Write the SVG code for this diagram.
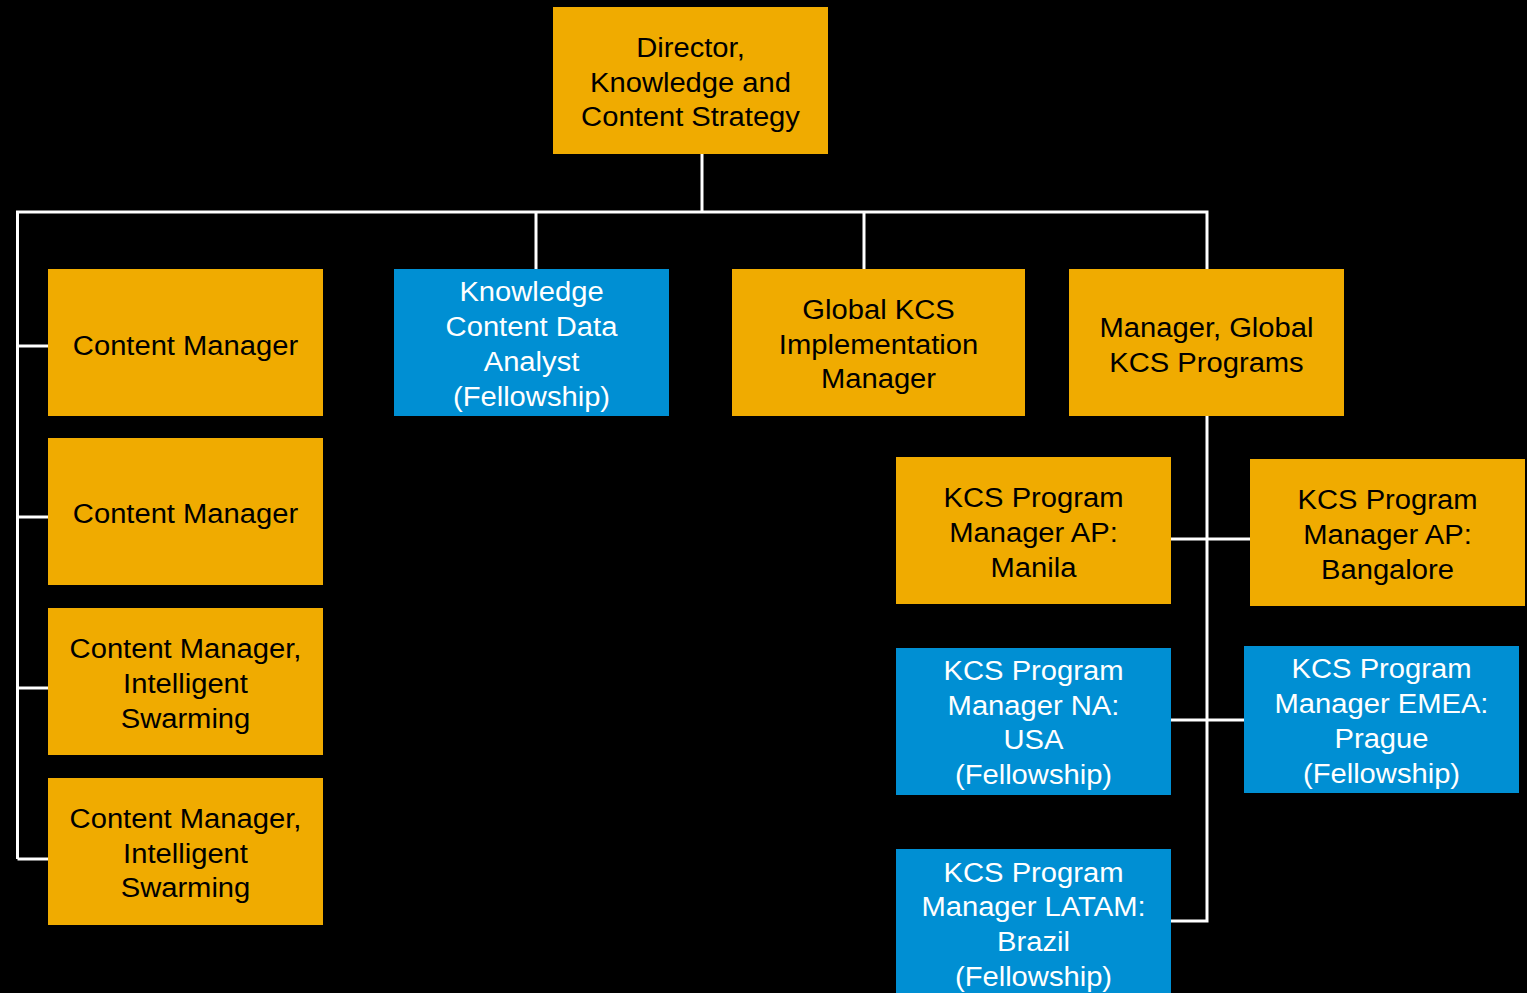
<svg xmlns="http://www.w3.org/2000/svg" width="1527" height="993" viewBox="0 0 1527 993">
  <style>
    .bg { fill: #000000; }
    .gold { fill: #F0AB00; }
    .blue { fill: #008FD3; }
    .lbl { font-family: "Liberation Sans", Arial, sans-serif; font-size: 27px; text-anchor: middle; }
    .dark { fill: #000000; }
    .light { fill: #FFFFFF; }
    .wire { fill: none; stroke: #FFFFFF; stroke-width: 3; stroke-linejoin: miter; }
  </style>
  <rect class="bg" x="0" y="0" width="1527" height="993"/>

  <!-- reporting lines -->
  <g id="connectors">
    <path class="wire" d="M702 154 V212"/>
    <path class="wire" d="M17.5 859 V212 H1207 V269"/>
    <path class="wire" d="M536 212 V269"/>
    <path class="wire" d="M864 212 V269"/>
    <path class="wire" d="M17.5 346 H48"/>
    <path class="wire" d="M17.5 517 H48"/>
    <path class="wire" d="M17.5 688 H48"/>
    <path class="wire" d="M17.5 859 H48"/>
    <path class="wire" d="M1207 416 V921 H1171"/>
    <path class="wire" d="M1171 539 H1250"/>
    <path class="wire" d="M1171 720 H1244"/>
  </g>

  <g id="director">
    <rect class="gold" x="553" y="7" width="275" height="147"/>
    <g transform="translate(690.5 0) scale(1.08 1)">
      <text class="lbl dark" x="0" y="57.5">Director,</text>
      <text class="lbl dark" x="0" y="92">Knowledge and</text>
      <text class="lbl dark" x="0" y="126.5">Content Strategy</text>
    </g>
  </g>

  <g id="content-manager-1">
    <rect class="gold" x="48" y="269" width="275" height="147"/>
    <g transform="translate(185.5 0) scale(1.08 1)">
      <text class="lbl dark" x="0" y="355">Content Manager</text>
    </g>
  </g>

  <g id="content-manager-2">
    <rect class="gold" x="48" y="438" width="275" height="147"/>
    <g transform="translate(185.5 0) scale(1.08 1)">
      <text class="lbl dark" x="0" y="523">Content Manager</text>
    </g>
  </g>

  <g id="content-manager-swarming-1">
    <rect class="gold" x="48" y="608" width="275" height="147"/>
    <g transform="translate(185.5 0) scale(1.08 1)">
      <text class="lbl dark" x="0" y="658">Content Manager,</text>
      <text class="lbl dark" x="0" y="693">Intelligent</text>
      <text class="lbl dark" x="0" y="728">Swarming</text>
    </g>
  </g>

  <g id="content-manager-swarming-2">
    <rect class="gold" x="48" y="778" width="275" height="147"/>
    <g transform="translate(185.5 0) scale(1.08 1)">
      <text class="lbl dark" x="0" y="828">Content Manager,</text>
      <text class="lbl dark" x="0" y="863">Intelligent</text>
      <text class="lbl dark" x="0" y="897">Swarming</text>
    </g>
  </g>

  <g id="data-analyst">
    <rect class="blue" x="394" y="269" width="275" height="147"/>
    <g transform="translate(531.5 0) scale(1.08 1)">
      <text class="lbl light" x="0" y="301">Knowledge</text>
      <text class="lbl light" x="0" y="336">Content Data</text>
      <text class="lbl light" x="0" y="371">Analyst</text>
      <text class="lbl light" x="0" y="406">(Fellowship)</text>
    </g>
  </g>

  <g id="global-kcs-implementation">
    <rect class="gold" x="732" y="269" width="293" height="147"/>
    <g transform="translate(878.5 0) scale(1.08 1)">
      <text class="lbl dark" x="0" y="319">Global KCS</text>
      <text class="lbl dark" x="0" y="354">Implementation</text>
      <text class="lbl dark" x="0" y="388">Manager</text>
    </g>
  </g>

  <g id="manager-global-kcs">
    <rect class="gold" x="1069" y="269" width="275" height="147"/>
    <g transform="translate(1206.5 0) scale(1.08 1)">
      <text class="lbl dark" x="0" y="337">Manager, Global</text>
      <text class="lbl dark" x="0" y="372">KCS Programs</text>
    </g>
  </g>

  <g id="kcs-manila">
    <rect class="gold" x="896" y="457" width="275" height="147"/>
    <g transform="translate(1033.5 0) scale(1.08 1)">
      <text class="lbl dark" x="0" y="507">KCS Program</text>
      <text class="lbl dark" x="0" y="542">Manager AP:</text>
      <text class="lbl dark" x="0" y="577">Manila</text>
    </g>
  </g>

  <g id="kcs-bangalore">
    <rect class="gold" x="1250" y="459" width="275" height="147"/>
    <g transform="translate(1387.5 0) scale(1.08 1)">
      <text class="lbl dark" x="0" y="509">KCS Program</text>
      <text class="lbl dark" x="0" y="544">Manager AP:</text>
      <text class="lbl dark" x="0" y="579">Bangalore</text>
    </g>
  </g>

  <g id="kcs-usa">
    <rect class="blue" x="896" y="648" width="275" height="147"/>
    <g transform="translate(1033.5 0) scale(1.08 1)">
      <text class="lbl light" x="0" y="680">KCS Program</text>
      <text class="lbl light" x="0" y="715">Manager NA:</text>
      <text class="lbl light" x="0" y="749">USA</text>
      <text class="lbl light" x="0" y="784">(Fellowship)</text>
    </g>
  </g>

  <g id="kcs-prague">
    <rect class="blue" x="1244" y="646" width="275" height="147"/>
    <g transform="translate(1381.5 0) scale(1.08 1)">
      <text class="lbl light" x="0" y="678">KCS Program</text>
      <text class="lbl light" x="0" y="713">Manager EMEA:</text>
      <text class="lbl light" x="0" y="748">Prague</text>
      <text class="lbl light" x="0" y="783">(Fellowship)</text>
    </g>
  </g>

  <g id="kcs-brazil">
    <rect class="blue" x="896" y="849" width="275" height="147"/>
    <g transform="translate(1033.5 0) scale(1.08 1)">
      <text class="lbl light" x="0" y="882">KCS Program</text>
      <text class="lbl light" x="0" y="916">Manager LATAM:</text>
      <text class="lbl light" x="0" y="951">Brazil</text>
      <text class="lbl light" x="0" y="986">(Fellowship)</text>
    </g>
  </g>
</svg>
